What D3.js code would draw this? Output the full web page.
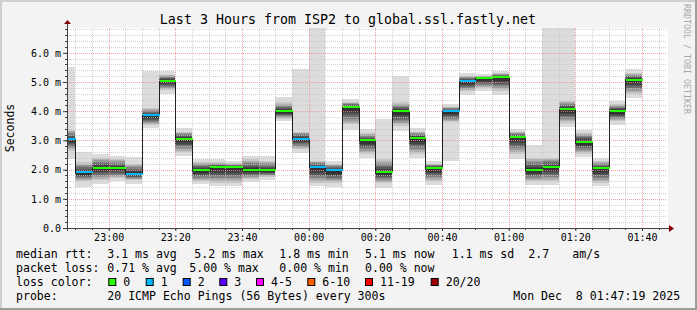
<!DOCTYPE html>
<html><head><meta charset="utf-8">
<script src="https://cdn.jsdelivr.net/npm/d3@7"></script>
<style>
html,body{margin:0;padding:0;background:#f3f3f3;}
svg{display:block;}
text{font-family:"DejaVu Sans Mono",monospace;white-space:pre;}
</style>
</head><body><svg id="c" width="697" height="310"></svg>
<script>
// ---- data ----
const slotStart = ["22:45","22:50","22:55","23:00","23:05","23:10","23:15","23:20","23:25","23:30",
  "23:35","23:40","23:45","23:50","23:55","00:00","00:05","00:10","00:15","00:20",
  "00:25","00:30","00:35","00:40","00:45","00:50","00:55","01:00","01:05","01:10",
  "01:15","01:20","01:25","01:30","01:35"];
const medianMs = [3.05,1.91,2.06,2.06,1.86,3.86,5.05,3.05,2.00,2.08,
  2.08,2.00,1.98,4.00,3.05,2.08,1.97,4.14,3.00,1.91,
  4.00,3.08,2.05,4.00,5.03,5.12,5.16,3.11,2.00,2.08,
  4.06,2.96,2.04,4.00,5.08];
const lossCount = [1,1,0,0,1,1,0,0,0,0, 0,0,0,0,1,1,1,0,0,0, 0,0,0,1,1,0,0,0,0,0, 0,0,0,0,0];
const smokeMin = [2.35,1.40,1.51,1.60,1.52,3.43,4.60,2.46,1.49,1.43,
  1.43,1.57,1.66,3.66,2.57,1.43,1.40,3.37,2.40,1.38,
  3.32,2.40,1.46,2.29,4.57,4.69,4.54,2.37,1.47,1.47,
  3.47,2.44,1.43,3.54,4.46];
const smokeMax = [5.50,2.60,2.54,2.48,2.42,5.37,5.39,3.43,2.35,2.35,
  2.29,2.48,2.48,4.48,5.45,7.00,2.29,4.42,3.40,3.72,
  5.20,3.43,2.29,4.23,5.31,5.26,5.37,3.40,2.83,7.00,
  7.00,3.37,2.40,4.34,5.43];
const coreLo = [2.65,1.60,1.65,1.72,1.65,3.52,4.72,2.60,1.60,1.55,
  1.55,1.68,1.75,3.75,2.72,1.55,1.55,3.55,2.55,1.55,
  3.50,2.55,1.60,3.62,4.70,4.80,4.70,2.55,1.60,1.60,
  3.60,2.55,1.55,3.65,4.60];
const coreHi = [3.35,2.25,2.40,2.35,2.20,4.10,5.25,3.30,2.25,2.25,
  2.22,2.35,2.30,4.30,3.30,2.30,2.20,4.32,3.25,2.35,
  4.30,3.30,2.20,4.15,5.22,5.22,5.30,3.30,2.40,2.41,
  4.34,3.25,2.30,4.25,5.30];
const yTickValues = [0,1,2,3,4,5,6];
const xTickLabels = ["23:00","23:20","23:40","00:00","00:20","00:40","01:00","01:20","01:40"];
const lossBuckets = ["0","1","2","3","4-5","6-10","11-19","20/20"];
const lossColors  = ["#26ff00","#00b8ff","#0059ff","#5e00ff","#ff00ff","#ff5e00","#ff0000","#a10000"];
const legendRtt  = ["median rtt:","3.1 ms avg","5.2 ms max","1.8 ms min","5.1 ms now","1.1 ms sd","2.7","am/s"];
const legendLoss = ["packet loss:","0.71 % avg","5.00 % max","0.00 % min","0.00 % now"];
const legendProbe = ["probe:","20 ICMP Echo Pings (56 Bytes) every 300s","Mon Dec  8 01:47:19 2025"];
const titleText = "Last 3 Hours from ISP2 to global.ssl.fastly.net";

// ---- helpers ----
function toDate(s){
  const [h,m] = s.split(":").map(Number);
  return h >= 12 ? new Date(2025,11,7,h,m,0) : new Date(2025,11,8,h,m,0);
}
function bucketOf(n){
  if(n<=3) return n; if(n<=5) return 4; if(n<=10) return 5; if(n<=19) return 6; return 7;
}
const STEP = 5*60*1000;

const svg = d3.select("#c");
const W=697,H=310;
const L=67,R=667,T=28,B=228;

const x = d3.scaleTime().domain([new Date(2025,11,7,22,47,30), new Date(2025,11,8,1,47,30)]).range([L,R]);
const y = d3.scaleLinear().domain([0,(B-T)/29.2]).range([B,T]);
const xr = d => Math.round(x(d));

// background + frame
svg.append("rect").attr("x",0).attr("y",0).attr("width",W).attr("height",H).attr("fill","#f3f3f3");
svg.append("rect").attr("x",0).attr("y",0).attr("width",W).attr("height",2).attr("fill","#cfcfcf");
svg.append("rect").attr("x",0).attr("y",0).attr("width",2).attr("height",H).attr("fill","#cfcfcf");
svg.append("rect").attr("x",0).attr("y",H-2).attr("width",W).attr("height",2).attr("fill","#9e9e9e");
svg.append("rect").attr("x",W-2).attr("y",0).attr("width",2).attr("height",H).attr("fill","#9e9e9e");
svg.append("rect").attr("x",L).attr("y",T).attr("width",R-L+1).attr("height",B-T).attr("fill","#ffffff");

svg.append("clipPath").attr("id","cp").append("rect").attr("x",L).attr("y",T).attr("width",R-L).attr("height",B-T);
const plot = svg.append("g").attr("clip-path","url(#cp)");

const bars = slotStart.map((s,i)=>({t0:toDate(s),t1:new Date(toDate(s).getTime()+STEP),
  med:medianMs[i],loss:lossCount[i],mn:smokeMin[i],mx:smokeMax[i],lo:coreLo[i],hi:coreHi[i]}));

// smoke: light full range
plot.selectAll("rect.light").data(bars).join("rect").attr("class","light")
  .attr("x",d=>xr(d.t0)).attr("width",d=>xr(d.t1)-xr(d.t0))
  .attr("y",d=>y(d.mx)).attr("height",d=>y(d.mn)-y(d.mx)).attr("fill","#dcdcdc")
  .attr("shape-rendering","crispEdges");
// core shading, nested layers darkening toward the median
const shades = ["#c6c6c6","#b0b0b0","#9a9a9a","#848484","#6e6e6e","#585858","#444444","#333333"];
shades.forEach((c,k)=>{
  const f = k/shades.length;
  plot.selectAll("rect.core"+k).data(bars).join("rect").attr("class","core"+k)
    .attr("x",d=>xr(d.t0)).attr("width",d=>xr(d.t1)-xr(d.t0))
    .attr("y",d=>y(d.hi-(d.hi-d.med)*f))
    .attr("height",d=>y(d.lo+(d.med-d.lo)*f*0.85)-y(d.hi-(d.hi-d.med)*f))
    .attr("fill",c).attr("shape-rendering","crispEdges");
});

// grid
const minorX = d3.timeMinute.every(5).range(new Date(2025,11,7,22,50), new Date(2025,11,8,1,50));
const majorX = xTickLabels.map(toDate);
const gridG = svg.append("g").attr("shape-rendering","crispEdges");
minorX.forEach(d=>{
  if(d.getMinutes()%20===0) return;
  gridG.append("line").attr("x1",xr(d)+0.5).attr("x2",xr(d)+0.5).attr("y1",T).attr("y2",B)
    .attr("stroke","#c8c8c8").attr("stroke-dasharray","1,1").attr("stroke-opacity",0.8);
});
d3.range(1,35).map(v=>v/5).forEach(v=>{
  if(Math.abs(v-Math.round(v))<1e-6) return;
  gridG.append("line").attr("x1",L).attr("x2",R).attr("y1",Math.round(y(v))+0.5).attr("y2",Math.round(y(v))+0.5)
    .attr("stroke","#c8c8c8").attr("stroke-dasharray","1,1").attr("stroke-opacity",0.8);
});
majorX.forEach(d=>{
  gridG.append("line").attr("x1",xr(d)+0.5).attr("x2",xr(d)+0.5).attr("y1",T).attr("y2",B)
    .attr("stroke","#f08c8c").attr("stroke-dasharray","1,1").attr("stroke-opacity",0.8);
});
yTickValues.filter(v=>v>0).forEach(v=>{
  gridG.append("line").attr("x1",L).attr("x2",R).attr("y1",Math.round(y(v))+0.5).attr("y2",Math.round(y(v))+0.5)
    .attr("stroke","#f08c8c").attr("stroke-dasharray","1,1").attr("stroke-opacity",0.8);
});

// median step line (black) and loss-coloured medians, drawn above the grid
const medG = svg.append("g").attr("clip-path","url(#cp)");
const stepPts = bars.map(d=>[Math.max(L,xr(d.t0))+0.5,Math.round(y(d.med))+0.5]);
stepPts.push([xr(bars[bars.length-1].t1)+0.5, Math.round(y(bars[bars.length-1].med))+0.5]);
medG.append("path").attr("d",d3.line().curve(d3.curveStepAfter)(stepPts))
  .attr("fill","none").attr("stroke","#202020").attr("stroke-width",1).attr("shape-rendering","crispEdges");
medG.selectAll("rect.med").data(bars).join("rect").attr("class","med")
  .attr("x",d=>xr(d.t0)+1).attr("width",d=>xr(d.t1)-xr(d.t0))
  .attr("y",d=>Math.round(y(d.med))-1).attr("height",2)
  .attr("fill",d=>lossColors[bucketOf(d.loss)]).attr("shape-rendering","crispEdges");

// axes
const yAxis = d3.axisLeft(y).tickValues(yTickValues).tickSize(4).tickPadding(2)
  .tickFormat(v=>v===0?"0.0":v.toFixed(1)+" m");
const ya = svg.append("g").attr("transform",`translate(${L},0)`).call(yAxis);
ya.select(".domain").remove();
ya.selectAll("line").attr("stroke","#404040");
ya.selectAll("text").attr("font-family","DejaVu Sans Mono").attr("font-size",10).attr("fill","#000");

const xAxis = d3.axisBottom(x).tickValues(majorX).tickSize(3).tickPadding(3)
  .tickFormat(d3.timeFormat("%H:%M"));
const xa = svg.append("g").attr("transform",`translate(0,${B})`).call(xAxis);
xa.select(".domain").remove();
xa.selectAll("line").attr("stroke","#404040");
xa.selectAll("text").attr("font-family","DejaVu Sans Mono").attr("font-size",10).attr("fill","#000");
// minor ticks
minorX.forEach(d=>{
  svg.append("line").attr("x1",xr(d)+0.5).attr("x2",xr(d)+0.5).attr("y1",B).attr("y2",B+2).attr("stroke","#404040");
});
d3.range(1,35).map(v=>v/5).forEach(v=>{
  svg.append("line").attr("x1",L-2).attr("x2",L).attr("y1",Math.round(y(v))+0.5).attr("y2",Math.round(y(v))+0.5).attr("stroke","#404040");
});

// axis lines + arrows
svg.append("line").attr("x1",L+0.5).attr("x2",L+0.5).attr("y1",B+3).attr("y2",T-4).attr("stroke","#404040");
svg.append("line").attr("x1",L-4).attr("x2",R+2).attr("y1",B+0.5).attr("y2",B+0.5).attr("stroke","#404040");
svg.append("path").attr("d",`M${L-3},${T-4} L${L+0.5},${T-8} L${L+4},${T-4} Z`).attr("fill","#800000");
svg.append("path").attr("d",`M${R+2},${B-3} L${R+7},${B+0.5} L${R+2},${B+4} Z`).attr("fill","#800000");

// title & labels
svg.append("text").attr("x",348).attr("y",23.5).attr("text-anchor","middle")
  .attr("font-size",13.3).attr("fill","#000").text(titleText);
svg.append("text").attr("transform",`translate(14,${(T+B)/2}) rotate(-90)`).attr("text-anchor","middle")
  .attr("font-size",11.5).attr("fill","#000").text("Seconds");
svg.append("text").attr("transform","translate(684,4) rotate(90)").attr("text-anchor","start")
  .attr("font-size",8.3).attr("fill","#a8a8a8").text("RRDTOOL / TOBI OETIKER");

// legend
const LF = 11.55;
const rttX = [16,107.3,194.3,279.3,365,451.7,528.3,572.3];
legendRtt.forEach((s,i)=>svg.append("text").attr("x",rttX[i]).attr("y",258.3).attr("font-size",LF).attr("fill","#000").text(s));
const lossX = [16,107.3,189.3,279.3,365];
legendLoss.forEach((s,i)=>svg.append("text").attr("x",lossX[i]).attr("y",272.2).attr("font-size",LF).attr("fill","#000").text(s));
svg.append("text").attr("x",16).attr("y",286.3).attr("font-size",LF).attr("fill","#000").text("loss color:");
const boxX = [108.3,145.7,182.7,219.3,256,307.3,365,430.7];
lossBuckets.forEach((s,i)=>{
  svg.append("rect").attr("x",boxX[i]+0.5).attr("y",278.5).attr("width",7).attr("height",7)
    .attr("fill",lossColors[i]).attr("stroke","#000").attr("stroke-width",1);
  svg.append("text").attr("x",boxX[i]+15).attr("y",286.3).attr("font-size",LF).attr("fill","#000").text(s);
});
const probeX = [16,107.3,513.3];
legendProbe.forEach((s,i)=>svg.append("text").attr("x",probeX[i]).attr("y",300.2).attr("font-size",LF).attr("fill","#000").text(s));
</script>
</body></html>
